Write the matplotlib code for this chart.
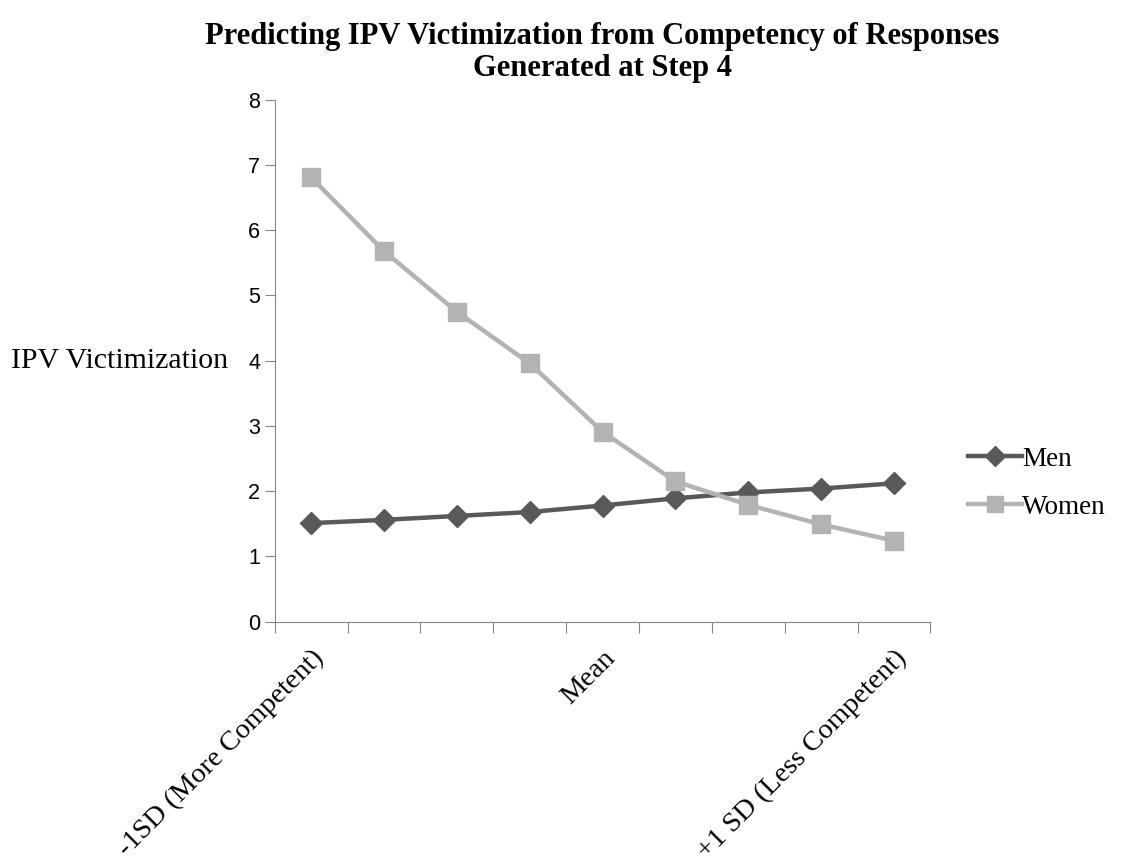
import numpy as np
import matplotlib.pyplot as plt

plt.rcParams['font.family'] = ['Liberation Serif', 'DejaVu Serif']

positions = np.arange(9)
men = [1.51, 1.56, 1.62, 1.68, 1.78, 1.89, 1.98, 2.04, 2.12]
women = [6.81, 5.68, 4.75, 3.96, 2.91, 2.15, 1.79, 1.49, 1.24]
label_positions = [0, 4, 8]
x_labels = ['-1SD (More Competent)', 'Mean', '+1 SD (Less Competent)']

fig = plt.figure(figsize=(11.21, 8.67), dpi=100)
ax = fig.add_axes([0.245, 0.283, 0.585, 0.602])

ax.plot(positions, men, color='#595959', linewidth=3.2, marker='D', markersize=11,
        label='Men')
ax.plot(positions, women, color='#b3b3b3', linewidth=3.2, marker='s', markersize=13,
        label='Women')

ax.set_xlim(-0.5, 8.5)
ax.set_ylim(0, 8)
ax.set_yticks(range(0, 9))
for lbl in ax.get_yticklabels():
    lbl.set_family(['Liberation Sans', 'DejaVu Sans'])
ax.set_xticks(np.arange(-0.5, 9, 1))
ax.set_xticklabels([])
ax.set_xticks(label_positions, minor=True)
ax.set_xticklabels(x_labels, minor=True, rotation=45, ha='right',
                   rotation_mode='anchor', fontsize=20.5)
ax.tick_params(axis='x', which='minor', length=0, pad=17)
ax.tick_params(axis='x', which='major', length=8, color='#868686', direction='out')
ax.tick_params(axis='y', length=7, color='#868686', labelsize=15.5, direction='out')

for side in ['top', 'right']:
    ax.spines[side].set_visible(False)
for side in ['left', 'bottom']:
    ax.spines[side].set_color('#868686')

ax.set_ylabel('IPV Victimization', fontsize=21.5, rotation=0, ha='right', va='center')
ax.yaxis.set_label_coords(-0.071, 0.5)

ax.set_title('Predicting IPV Victimization from Competency of Responses\nGenerated at Step 4',
             fontsize=22, fontweight='bold', pad=17, linespacing=1.15)

ax.legend(loc='center left', bbox_to_anchor=(1.02, 0.265), frameon=False,
          fontsize=19.5, handlelength=2.0, handletextpad=0.0, labelspacing=0.85,
          markerscale=0.9)

plt.savefig('out.png', dpi=100)
